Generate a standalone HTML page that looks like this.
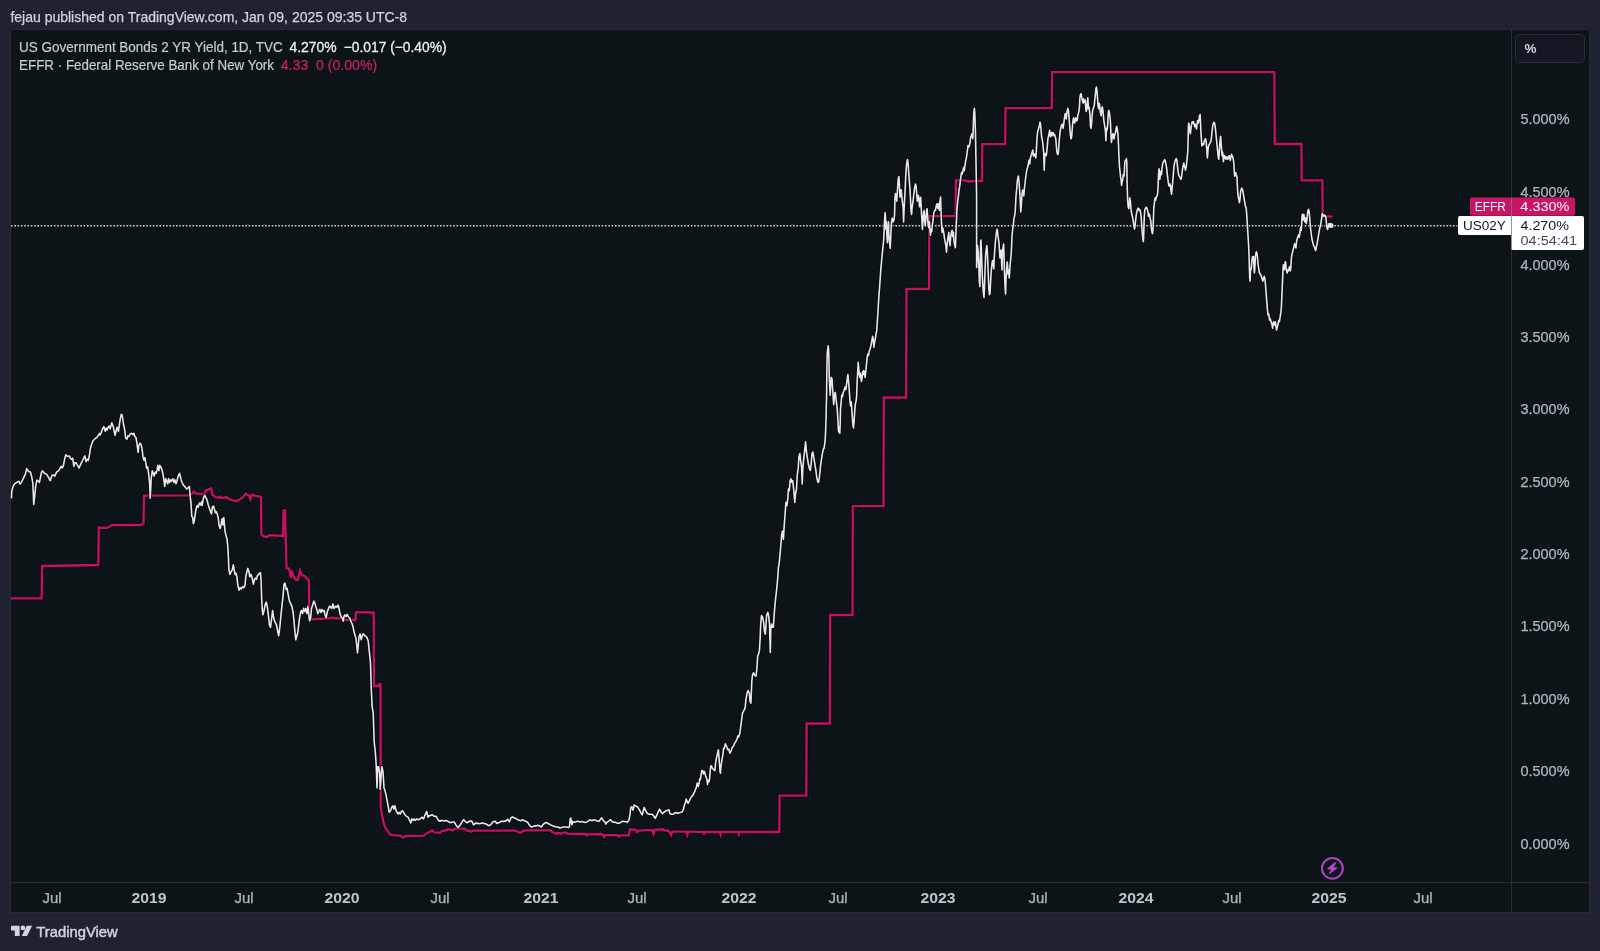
<!DOCTYPE html>
<html><head><meta charset="utf-8"><style>
*{margin:0;padding:0;box-sizing:border-box}
html,body{width:1600px;height:951px;overflow:hidden;background:#1f2330;font-family:"Liberation Sans",sans-serif}
.chart{position:absolute;left:10px;top:29px;width:1580px;height:884px;background:#0d1417;border:1px solid #272b36}
.vdiv{position:absolute;left:1511px;top:30px;width:1px;height:882px;background:#2a2f33}
.hdiv{position:absolute;left:11px;top:882px;width:1578px;height:1px;background:#2a2f33}
.pct{position:absolute;left:1515px;top:33.5px;width:70px;height:29px;border:1px solid #2a2e39;border-radius:5px;background:#131722}
svg{position:absolute;left:0;top:0;will-change:transform}
text{font-family:"Liberation Sans",sans-serif}
</style></head><body>
<div class="chart"></div>
<div class="vdiv"></div>
<div class="hdiv"></div>
<div class="pct"></div>
<svg width="1600" height="951" viewBox="0 0 1600 951">
<line x1="11" y1="225.75" x2="1457.5" y2="225.75" stroke="#cfd2d8" stroke-width="1.5" stroke-dasharray="1.6 1.7"/>
<polyline points="11.0,598.4 41.6,598.4 42.1,566.0 70.0,565.5 98.3,565.0 98.8,527.5 107.2,527.9 112.0,524.8 140.0,525.2 143.5,524.0 144.0,495.7 190.0,495.3 191.8,493.5 194.2,491.6 195.4,493.5 204.5,494.1 205.7,490.4 211.1,488.6 212.4,494.7 215.4,497.1 219.0,497.7 220.2,496.5 222.0,498.3 226.3,497.1 229.9,499.5 235.9,501.3 239.5,499.5 243.2,497.1 245.6,493.5 249.2,495.9 250.4,498.9 251.6,494.7 255.3,495.9 260.1,496.5 261.1,497.1 261.3,534.5 263.7,536.4 266.7,537.0 269.8,535.2 283.0,536.0 283.5,510.5 285.0,510.5 286.5,568.4 289.0,568.4 290.0,573.5 291.0,577.9 292.0,570.5 293.0,574.7 295.0,579.5 298.0,580.0 300.0,570.5 302.0,575.2 305.0,576.3 307.0,578.9 308.8,580.0 309.4,618.9 311.0,619.4 330.0,618.3 333.2,617.5 334.0,618.3 342.1,618.3 345.0,620.1 355.4,620.1 356.0,612.2 373.7,612.5 373.9,686.0 378.6,686.0 379.1,684.2 380.5,684.2 380.7,807.5 381.9,814.0 383.5,822.1 385.1,827.0 387.2,830.3 389.2,833.6 391.7,835.2 400.6,835.7 403.1,837.6 405.5,836.0 423.5,835.7 426.4,833.6 430.0,831.6 432.2,830.4 434.5,832.4 440.1,832.7 441.8,831.0 445.7,830.4 448.0,829.0 452.5,830.4 455.3,828.7 460.4,828.7 464.9,828.7 466.6,830.4 471.1,831.6 472.7,830.7 480.6,830.7 516.1,830.7 517.7,832.1 519.4,832.3 521.1,832.5 522.7,831.5 523.3,830.7 527.2,830.4 538.5,830.4 550.9,830.4 552.0,832.1 555.4,833.2 556.5,834.0 557.6,832.9 559.3,833.2 561.0,834.0 562.1,832.9 564.4,832.6 566.6,832.6 567.2,833.7 572.2,834.0 585.7,834.0 587.4,835.4 588.6,834.3 600.4,834.0 603.2,834.3 600.0,834.0 602.9,834.5 604.0,836.8 605.8,835.1 617.4,835.1 619.1,836.8 620.8,835.4 628.9,835.4 629.8,829.3 631.2,829.3 635.9,829.9 637.3,832.2 638.5,830.5 652.1,829.9 653.5,834.0 654.7,829.9 663.0,829.3 664.2,830.5 668.2,830.5 670.0,832.8 671.1,835.1 672.3,831.6 686.2,831.6 687.3,835.1 688.5,831.6 690.0,831.6 703.4,832.0 704.0,834.5 704.6,832.0 719.9,832.0 720.5,834.3 721.1,832.0 738.2,832.0 738.8,834.0 739.4,832.0 779.3,832.0 779.6,795.6 806.3,795.6 806.6,723.5 829.8,723.5 830.1,615.0 852.5,615.0 852.8,506.2 883.5,506.2 883.8,397.5 906.2,397.5 906.5,288.9 929.0,288.9 929.3,216.2 955.6,216.2 955.9,180.4 965.0,180.4 968.0,181.5 975.0,181.0 982.0,180.8 982.3,144.2 1005.2,144.2 1005.5,108.2 1051.8,108.2 1052.1,72.2 1274.4,72.2 1274.7,144.0 1301.4,144.0 1301.7,180.3 1322.4,180.3 1322.7,216.5 1332.5,216.5" fill="none" stroke="#020608" stroke-opacity="0.55" stroke-width="4.2" stroke-linejoin="miter"/>
<polyline points="11.0,598.4 41.6,598.4 42.1,566.0 70.0,565.5 98.3,565.0 98.8,527.5 107.2,527.9 112.0,524.8 140.0,525.2 143.5,524.0 144.0,495.7 190.0,495.3 191.8,493.5 194.2,491.6 195.4,493.5 204.5,494.1 205.7,490.4 211.1,488.6 212.4,494.7 215.4,497.1 219.0,497.7 220.2,496.5 222.0,498.3 226.3,497.1 229.9,499.5 235.9,501.3 239.5,499.5 243.2,497.1 245.6,493.5 249.2,495.9 250.4,498.9 251.6,494.7 255.3,495.9 260.1,496.5 261.1,497.1 261.3,534.5 263.7,536.4 266.7,537.0 269.8,535.2 283.0,536.0 283.5,510.5 285.0,510.5 286.5,568.4 289.0,568.4 290.0,573.5 291.0,577.9 292.0,570.5 293.0,574.7 295.0,579.5 298.0,580.0 300.0,570.5 302.0,575.2 305.0,576.3 307.0,578.9 308.8,580.0 309.4,618.9 311.0,619.4 330.0,618.3 333.2,617.5 334.0,618.3 342.1,618.3 345.0,620.1 355.4,620.1 356.0,612.2 373.7,612.5 373.9,686.0 378.6,686.0 379.1,684.2 380.5,684.2 380.7,807.5 381.9,814.0 383.5,822.1 385.1,827.0 387.2,830.3 389.2,833.6 391.7,835.2 400.6,835.7 403.1,837.6 405.5,836.0 423.5,835.7 426.4,833.6 430.0,831.6 432.2,830.4 434.5,832.4 440.1,832.7 441.8,831.0 445.7,830.4 448.0,829.0 452.5,830.4 455.3,828.7 460.4,828.7 464.9,828.7 466.6,830.4 471.1,831.6 472.7,830.7 480.6,830.7 516.1,830.7 517.7,832.1 519.4,832.3 521.1,832.5 522.7,831.5 523.3,830.7 527.2,830.4 538.5,830.4 550.9,830.4 552.0,832.1 555.4,833.2 556.5,834.0 557.6,832.9 559.3,833.2 561.0,834.0 562.1,832.9 564.4,832.6 566.6,832.6 567.2,833.7 572.2,834.0 585.7,834.0 587.4,835.4 588.6,834.3 600.4,834.0 603.2,834.3 600.0,834.0 602.9,834.5 604.0,836.8 605.8,835.1 617.4,835.1 619.1,836.8 620.8,835.4 628.9,835.4 629.8,829.3 631.2,829.3 635.9,829.9 637.3,832.2 638.5,830.5 652.1,829.9 653.5,834.0 654.7,829.9 663.0,829.3 664.2,830.5 668.2,830.5 670.0,832.8 671.1,835.1 672.3,831.6 686.2,831.6 687.3,835.1 688.5,831.6 690.0,831.6 703.4,832.0 704.0,834.5 704.6,832.0 719.9,832.0 720.5,834.3 721.1,832.0 738.2,832.0 738.8,834.0 739.4,832.0 779.3,832.0 779.6,795.6 806.3,795.6 806.6,723.5 829.8,723.5 830.1,615.0 852.5,615.0 852.8,506.2 883.5,506.2 883.8,397.5 906.2,397.5 906.5,288.9 929.0,288.9 929.3,216.2 955.6,216.2 955.9,180.4 965.0,180.4 968.0,181.5 975.0,181.0 982.0,180.8 982.3,144.2 1005.2,144.2 1005.5,108.2 1051.8,108.2 1052.1,72.2 1274.4,72.2 1274.7,144.0 1301.4,144.0 1301.7,180.3 1322.4,180.3 1322.7,216.5 1332.5,216.5" fill="none" stroke="#c51162" stroke-width="2.3" stroke-linejoin="miter"/>
<polyline points="11.5,498.6 11.7,491.7 13.2,485.9 14.9,483.6 16.7,482.5 19.0,481.3 20.1,484.2 21.9,481.3 23.6,477.8 25.3,474.4 26.7,468.6 28.6,471.5 30.5,472.1 31.7,476.7 32.9,483.6 33.7,504.4 34.6,497.5 35.7,485.9 36.9,480.1 38.6,481.3 39.4,482.5 41.5,472.1 42.7,470.9 44.4,473.2 46.7,474.4 48.5,477.3 50.2,480.7 51.9,475.5 53.7,474.9 54.8,476.1 56.6,472.1 58.9,470.3 61.2,466.3 62.3,468.0 63.5,465.1 64.6,459.3 65.8,454.7 67.5,456.4 69.3,455.9 70.4,458.2 71.6,459.3 72.7,458.2 73.9,466.3 74.8,462.8 76.2,462.8 77.4,465.1 79.1,468.0 80.3,465.1 81.4,462.8 82.6,460.5 83.7,458.2 84.9,455.9 86.0,461.6 87.2,459.3 88.3,460.5 89.5,454.7 90.3,448.9 91.2,445.5 93.0,440.8 95.3,438.5 97.0,437.4 98.8,434.5 99.9,433.3 100.0,435.2 101.3,432.6 102.6,428.7 103.9,426.7 105.3,431.3 106.3,428.0 107.2,430.0 108.1,427.3 109.2,426.0 110.2,428.7 111.8,422.7 113.1,426.0 114.2,431.3 115.1,435.2 116.0,431.3 117.1,427.3 118.4,431.3 119.4,424.7 120.4,418.1 121.3,414.2 122.3,415.5 123.0,420.8 123.9,426.0 125.0,431.3 125.6,437.9 126.9,439.2 127.9,435.9 128.9,436.5 130.2,433.9 131.5,433.3 132.9,434.6 133.9,433.3 134.8,436.5 136.1,437.9 137.1,444.4 138.1,452.3 138.8,445.7 140.1,443.1 141.0,444.4 142.0,448.4 143.1,457.6 144.0,460.2 144.9,457.6 146.0,464.1 146.6,468.1 147.6,466.8 148.6,473.3 149.7,483.8 150.2,498.3 151.2,478.6 152.3,470.7 153.2,473.3 154.1,476.0 155.2,472.0 156.2,473.3 157.2,469.4 157.8,465.4 158.9,470.7 159.8,465.4 160.7,466.8 161.8,469.4 162.8,473.3 163.7,478.6 164.7,486.5 165.7,478.6 166.8,481.2 167.7,483.8 168.6,478.6 169.6,482.5 170.7,479.9 171.6,481.2 172.9,478.6 173.9,482.5 174.9,479.9 176.0,483.8 176.9,481.2 178.2,476.0 179.5,473.3 180.2,476.0 181.2,479.9 182.1,482.5 183.4,485.2 184.8,486.5 186.7,489.1 188.0,487.8 189.4,486.5 190.0,494.7 191.0,503.1 191.8,516.4 192.7,517.6 193.4,523.7 194.2,521.3 195.4,512.8 196.3,508.0 197.3,505.5 198.2,507.4 199.4,503.1 200.6,504.9 201.5,501.9 202.1,505.5 203.1,499.5 203.9,497.1 204.7,495.3 205.7,497.1 206.9,499.5 208.1,504.3 209.3,508.0 210.5,511.6 211.5,514.0 212.4,506.8 213.6,506.1 214.4,509.2 215.4,512.8 216.3,511.6 217.6,515.2 218.4,518.8 219.0,524.9 220.2,528.5 221.2,523.7 222.0,518.8 222.9,524.9 223.8,517.6 225.0,530.9 226.0,535.8 226.9,538.2 227.7,545.4 228.4,557.5 228.9,569.6 229.9,574.4 231.1,572.0 232.3,569.6 233.3,564.8 234.1,569.6 235.0,574.4 235.9,573.2 236.9,576.8 237.7,584.1 238.9,590.1 240.2,587.7 241.4,588.9 242.6,586.5 243.8,587.7 245.0,585.3 245.8,576.8 246.8,572.0 247.8,568.4 249.0,572.0 249.8,576.8 251.0,574.4 252.2,578.1 253.4,584.1 254.3,580.5 255.3,578.1 256.5,579.3 257.4,575.6 258.6,574.4 259.5,573.2 260.5,572.6 261.1,581.0 261.6,596.8 262.3,610.5 262.9,614.7 264.0,610.5 265.3,604.2 266.3,602.1 267.4,607.3 268.4,615.7 269.5,625.2 270.5,627.3 271.6,618.9 272.6,610.5 273.5,616.8 274.5,621.0 275.6,623.1 276.6,625.2 277.7,631.5 278.7,635.7 279.8,627.3 280.8,616.8 282.1,604.2 282.9,597.9 284.0,584.2 285.0,583.1 286.1,589.4 287.1,588.4 288.2,594.7 289.2,600.0 290.3,603.1 291.1,604.2 292.1,607.3 293.1,612.6 293.9,619.9 294.9,631.5 295.8,639.9 296.8,635.7 297.6,633.6 298.7,625.2 299.7,616.8 300.8,611.5 301.5,610.5 302.6,613.6 303.6,608.4 304.7,611.5 305.7,608.4 306.8,613.6 307.8,606.3 308.9,615.7 309.6,621.0 310.7,617.8 311.5,608.4 312.6,605.2 313.8,601.0 314.9,603.1 315.7,606.3 316.8,609.4 317.8,613.6 318.9,611.5 319.9,609.4 321.0,612.6 322.0,609.4 323.1,611.5 324.1,610.5 325.0,614.7 326.2,617.8 327.3,611.5 328.3,609.4 329.4,606.3 330.0,606.2 331.7,608.5 332.9,603.9 334.0,608.5 335.8,606.2 336.9,607.3 338.1,605.0 339.0,608.5 340.2,614.3 341.0,616.6 342.1,617.7 343.3,621.2 343.9,616.6 344.8,614.9 346.0,616.6 347.1,614.3 347.9,616.0 349.1,617.7 349.9,618.3 350.8,621.2 352.0,623.5 353.1,627.0 354.0,631.6 354.9,635.1 356.0,638.6 356.8,645.5 357.5,653.0 358.3,645.5 359.1,636.2 360.1,633.9 361.2,639.7 362.4,635.1 363.5,633.9 364.7,635.7 365.8,636.2 367.0,637.4 368.2,640.9 369.3,651.3 370.5,662.8 371.3,690.0 372.1,706.3 373.2,712.8 374.2,742.2 375.3,752.0 376.2,765.0 377.0,787.9 377.8,766.7 378.6,766.7 379.7,773.2 380.2,789.5 381.1,776.5 381.9,766.7 383.0,771.6 384.0,787.9 385.1,791.1 385.9,794.4 387.2,800.9 388.4,807.5 389.2,812.3 390.5,810.7 391.7,807.5 392.8,805.8 393.8,809.1 394.9,805.8 396.1,810.7 397.0,812.3 398.2,814.0 399.3,812.3 400.3,814.0 401.4,811.5 402.6,810.7 403.6,812.3 405.5,815.6 408.0,817.2 409.6,820.5 410.7,823.0 411.7,818.9 412.9,820.5 414.0,818.9 415.3,820.5 416.9,818.9 418.6,819.7 420.2,818.9 421.8,817.2 423.5,818.9 425.1,814.8 426.7,811.5 428.0,817.2 429.2,815.6 430.0,815.8 432.0,814.7 433.9,816.1 436.2,816.4 438.4,820.3 440.1,821.2 441.8,820.3 444.1,820.9 446.3,820.6 448.6,821.7 450.8,822.8 452.5,822.0 454.2,822.0 456.2,825.4 458.1,827.6 460.4,824.8 462.6,820.9 463.7,819.7 464.9,821.2 467.1,822.8 469.4,821.4 471.6,820.9 473.6,824.8 475.6,823.1 477.8,823.4 479.8,823.7 482.0,823.1 484.0,823.4 486.2,824.0 488.5,825.7 490.7,824.8 493.0,821.7 495.2,821.2 496.9,823.4 499.2,822.6 501.4,821.2 503.7,821.4 505.9,820.9 507.6,819.2 509.3,821.7 511.0,817.8 512.7,816.9 514.4,818.1 516.0,818.6 517.7,819.7 519.4,820.2 521.1,820.8 522.7,819.7 524.4,820.8 526.1,821.4 527.8,822.5 529.5,825.3 531.2,827.0 532.9,826.4 534.6,825.9 536.2,825.9 537.9,825.3 539.6,825.9 541.3,827.0 543.0,824.7 544.7,823.1 546.4,822.5 548.1,823.6 549.7,824.2 551.4,825.3 553.1,825.9 554.8,826.4 556.5,827.0 558.2,827.0 559.9,828.1 561.6,827.6 563.2,827.0 564.9,827.0 566.6,827.0 568.3,827.6 569.4,827.0 570.3,818.6 570.8,818.0 571.4,822.5 572.0,824.7 572.5,821.4 573.4,822.5 575.1,821.9 576.7,821.4 578.4,821.4 580.1,821.9 581.8,821.4 583.5,821.9 585.2,822.5 586.9,821.9 588.6,820.8 590.2,819.7 591.9,820.8 593.6,819.7 595.3,820.2 597.0,820.8 598.7,821.4 600.0,820.1 601.7,817.8 603.5,820.7 605.2,822.4 605.8,824.1 606.9,822.4 608.7,821.2 610.4,819.5 612.1,821.8 613.9,822.1 615.6,822.4 617.4,823.3 619.1,823.3 620.8,822.4 622.6,821.2 624.3,821.5 626.0,821.8 627.2,822.4 628.9,820.1 630.1,814.3 630.7,807.4 631.8,806.8 633.0,810.2 634.1,805.0 635.9,806.2 637.6,806.8 639.3,809.7 641.1,813.1 642.2,814.9 643.4,810.2 644.2,807.4 645.1,809.7 646.8,812.6 648.6,814.3 650.3,814.3 652.1,814.3 653.8,816.0 655.2,818.3 656.7,815.4 658.4,811.4 659.6,809.1 660.7,811.4 662.5,813.7 664.2,812.0 665.9,810.8 667.7,810.2 668.8,809.7 670.0,813.7 671.7,814.3 673.5,814.3 675.2,812.6 676.9,813.1 678.7,813.1 680.4,812.6 682.1,812.0 683.3,809.7 684.4,805.0 685.6,802.1 686.1,799.0 686.8,800.4 687.5,802.5 688.2,803.2 688.9,801.8 689.9,799.7 690.9,797.6 692.0,796.2 692.7,795.6 693.4,794.2 694.1,792.8 694.8,791.4 695.5,789.3 696.2,787.9 696.8,785.1 697.2,783.1 697.9,784.4 698.2,786.5 698.6,785.1 699.3,781.7 699.8,778.9 700.3,779.6 700.7,777.5 701.4,772.6 701.7,770.6 702.4,770.6 703.1,771.9 703.4,774.0 704.1,771.2 704.8,772.6 705.5,775.4 706.2,777.5 706.9,779.6 707.5,784.4 708.0,781.7 708.4,780.3 709.0,781.7 709.6,778.9 710.0,773.3 710.4,769.2 710.7,766.4 711.4,765.7 712.1,767.8 713.2,769.2 714.2,769.9 714.9,770.6 715.6,762.9 716.3,758.8 717.0,756.0 717.7,752.5 718.4,749.7 718.7,753.9 719.1,758.8 719.6,765.7 720.0,771.2 720.5,773.3 720.8,767.8 721.5,762.9 722.2,758.1 722.9,754.6 723.6,748.3 724.2,748.6 725.3,743.9 725.9,745.1 727.0,747.4 727.8,749.7 728.8,749.1 729.9,753.2 731.1,750.9 732.2,747.4 733.4,746.2 734.6,743.4 735.7,741.6 736.9,739.3 738.0,735.8 738.6,737.0 739.8,733.5 742.5,713.2 745.1,708.1 745.9,699.7 747.1,693.0 748.1,690.5 749.3,693.0 750.1,701.4 750.9,703.1 751.8,681.2 752.6,674.5 753.5,672.8 754.8,675.3 756.0,676.2 756.8,669.4 757.7,656.0 758.5,654.3 759.4,650.9 760.2,637.4 760.7,624.0 761.5,615.6 762.7,617.2 763.6,622.3 764.4,630.7 765.3,634.1 766.6,615.6 767.8,612.2 768.6,615.6 769.5,624.0 770.3,652.6 770.8,629.0 771.6,624.0 772.3,627.3 773.3,627.3 774.5,610.5 775.4,600.4 776.2,593.7 777.4,581.9 778.4,568.0 779.2,563.0 780.0,554.6 780.9,544.5 781.7,534.4 782.6,531.0 783.4,539.4 784.3,524.3 785.1,514.2 785.9,502.4 786.8,505.8 787.6,500.7 788.5,489.0 789.3,490.6 790.1,480.6 791.0,478.9 791.8,482.2 792.7,480.6 793.8,490.6 794.8,502.4 795.5,494.0 796.5,489.0 797.2,475.5 798.2,468.8 798.9,457.0 799.9,453.6 800.6,460.4 801.6,467.1 802.2,483.9 802.9,467.1 803.9,457.0 804.9,448.6 805.6,441.9 806.5,452.0 807.5,458.7 808.3,463.7 809.5,468.8 810.3,470.5 811.2,463.7 812.0,453.6 812.8,452.0 814.0,458.7 815.0,465.4 815.7,468.8 816.7,477.2 817.9,482.2 818.7,482.2 819.6,475.5 820.4,467.1 821.3,460.4 822.4,453.6 823.4,448.6 824.1,448.4 825.2,440.2 825.7,429.2 826.1,415.6 826.6,395.1 826.8,374.6 827.1,355.5 827.6,350.0 828.2,345.9 828.7,351.4 829.0,363.7 829.3,378.7 829.8,388.3 830.2,395.1 830.7,385.5 831.2,377.4 832.0,378.7 832.6,388.3 833.1,396.5 833.7,404.7 834.2,399.2 834.7,393.7 835.3,392.4 835.8,396.5 836.4,401.9 837.1,407.4 837.8,418.3 838.3,429.2 838.8,432.0 839.4,426.5 839.8,433.3 840.2,423.8 840.5,408.8 841.2,401.9 841.8,395.1 842.5,396.5 843.2,392.4 843.9,391.0 844.6,388.3 845.3,386.9 845.9,389.6 846.6,384.2 847.3,378.7 847.9,374.6 848.4,380.1 848.9,385.5 849.5,393.7 850.0,401.9 850.6,406.0 851.1,401.9 851.7,407.4 852.2,415.6 852.8,423.8 853.5,427.9 854.1,421.1 854.8,410.1 855.5,403.3 856.2,400.6 856.6,396.5 857.1,382.8 857.7,371.9 858.2,362.3 858.8,369.2 859.3,374.6 859.9,377.4 860.4,373.3 861.0,378.7 861.5,381.5 862.1,377.4 862.6,371.9 863.2,374.6 863.7,370.5 864.4,371.9 865.1,377.4 865.7,371.9 866.4,365.1 867.1,358.2 867.8,354.1 868.5,355.5 869.2,351.4 869.8,350.0 870.5,347.3 871.2,344.6 871.9,340.5 872.6,336.4 873.3,339.1 873.9,347.3 874.6,341.8 875.3,339.1 876.0,333.7 876.7,330.9 877.9,312.8 878.8,297.6 879.8,284.4 880.7,271.1 881.7,259.8 882.6,250.3 883.6,240.9 884.0,233.3 884.5,221.9 885.1,212.5 885.5,218.1 886.0,229.5 886.4,221.9 887.0,237.1 887.4,242.8 887.9,231.4 888.5,221.9 888.9,235.2 889.6,242.8 890.2,248.4 890.8,235.2 891.5,221.9 892.3,218.1 893.0,221.9 894.0,220.0 894.6,214.4 894.9,199.2 895.5,193.5 896.1,197.3 896.8,201.1 897.6,187.9 898.3,178.4 898.9,176.5 899.5,187.9 900.0,197.3 900.6,191.6 901.2,189.8 901.7,195.4 902.5,203.0 903.1,206.8 903.6,221.9 904.2,206.8 904.8,195.4 905.3,186.0 905.9,172.7 906.5,165.1 907.0,161.4 907.6,159.5 908.2,165.1 908.7,172.7 909.3,180.3 909.9,187.9 910.5,199.2 911.0,210.6 911.6,214.4 912.0,208.7 912.5,204.9 913.3,199.2 913.9,193.5 914.6,187.9 915.4,184.1 916.1,186.0 916.7,193.5 917.3,201.1 917.8,197.3 918.4,195.4 919.0,199.2 919.5,206.8 920.1,201.1 920.7,197.3 921.2,206.8 921.8,218.1 922.4,229.5 922.9,221.9 923.5,214.4 924.1,210.6 924.6,220.0 925.2,225.7 925.8,220.0 926.4,212.5 927.1,208.7 927.7,218.1 928.2,225.7 928.8,227.6 929.4,221.9 929.9,229.5 930.5,235.2 931.1,229.5 931.7,231.4 932.2,225.7 932.8,221.9 933.4,216.3 933.9,212.5 934.7,210.6 935.5,210.3 936.2,205.9 937.1,203.7 937.7,208.1 938.4,203.7 939.3,210.3 939.9,201.5 940.6,197.1 941.0,210.3 941.5,223.5 942.1,232.4 942.8,228.0 943.7,232.4 944.3,236.8 945.0,241.2 945.9,245.6 946.5,252.2 947.2,243.4 948.1,236.8 948.8,232.4 949.4,241.2 950.1,245.6 950.7,236.8 951.4,232.4 952.1,230.2 952.7,236.8 953.4,232.4 954.0,241.2 954.7,245.6 955.4,247.8 955.6,243.1 956.1,227.9 956.6,217.8 956.9,209.4 957.4,204.4 957.9,199.3 958.6,194.3 959.1,189.2 959.6,187.5 960.3,180.8 961.0,175.8 961.6,172.4 962.3,174.1 963.0,170.7 963.7,167.3 964.3,170.7 965.0,165.7 965.7,160.6 966.2,158.9 966.7,155.6 967.4,150.5 968.0,145.5 968.7,147.1 969.4,145.5 970.1,142.1 970.7,137.0 971.4,135.4 972.1,133.7 972.8,138.7 973.1,132.0 973.4,121.9 973.8,113.5 974.1,110.1 974.4,108.4 974.8,113.5 975.1,121.9 975.5,133.7 975.8,150.5 976.6,196.4 976.6,267.4 977.0,259.2 977.5,245.6 978.2,252.4 978.9,268.8 979.3,281.1 979.9,286.6 980.3,262.0 980.7,241.5 981.0,240.1 981.4,251.0 981.8,262.0 982.3,275.6 982.9,286.6 983.4,293.4 984.0,297.5 984.5,286.6 985.1,268.8 985.7,253.8 986.4,248.3 986.8,245.6 987.2,249.7 987.8,262.0 988.3,275.6 988.9,289.3 989.4,294.8 990.0,293.4 990.5,283.8 991.1,272.9 991.6,267.4 992.2,262.0 992.7,260.6 993.3,264.7 993.8,268.8 994.3,256.5 994.9,248.3 995.4,241.5 996.0,236.0 996.5,231.9 997.1,229.2 997.6,231.9 998.0,236.0 998.4,238.7 999.0,242.8 999.5,251.0 1000.0,258.0 1000.6,254.0 1001.2,250.0 1001.6,262.0 1002.0,270.0 1002.4,254.0 1003.0,248.0 1003.6,244.0 1004.0,254.0 1004.4,270.0 1005.0,286.0 1005.6,294.0 1006.0,280.0 1006.6,270.0 1007.2,262.0 1007.6,266.0 1008.0,274.0 1008.6,270.0 1009.2,278.0 1009.6,274.0 1010.0,266.0 1010.6,260.0 1011.2,254.0 1011.6,246.0 1012.0,236.0 1012.6,230.0 1013.2,226.0 1013.6,222.0 1014.0,218.0 1014.6,216.0 1015.2,212.0 1015.6,204.0 1016.0,196.0 1016.6,190.0 1017.2,182.0 1017.8,178.0 1018.4,176.0 1019.0,182.0 1019.6,190.0 1020.2,200.0 1020.8,212.0 1021.4,204.0 1022.0,194.0 1022.6,190.0 1023.2,192.0 1023.8,196.0 1024.4,188.0 1025.0,184.0 1025.6,178.0 1026.2,174.0 1026.8,170.0 1027.4,168.0 1028.0,166.0 1028.6,162.0 1029.2,160.0 1029.8,164.0 1030.4,158.0 1031.0,156.0 1031.6,154.0 1032.2,152.0 1032.8,150.0 1033.4,156.0 1034.0,154.0 1034.6,156.0 1035.2,154.0 1035.8,158.0 1036.4,150.0 1037.0,138.0 1037.6,132.0 1038.2,130.0 1038.8,128.0 1039.4,126.0 1040.0,122.0 1040.5,124.1 1041.1,130.4 1041.6,136.7 1042.1,138.8 1042.6,142.0 1043.2,147.2 1043.7,153.5 1044.0,164.0 1044.2,170.3 1044.5,161.9 1044.8,155.6 1045.3,153.5 1045.8,153.5 1046.3,155.6 1046.8,151.4 1047.4,145.1 1047.9,138.8 1048.4,136.7 1048.9,134.6 1049.2,132.5 1049.7,130.4 1050.1,134.6 1050.5,136.7 1051.0,134.6 1051.6,132.5 1052.1,135.7 1052.6,133.6 1053.1,132.5 1053.7,134.6 1054.2,135.7 1054.7,134.6 1055.2,136.7 1055.8,138.8 1056.3,145.1 1056.8,151.4 1057.3,153.5 1057.9,154.6 1058.4,152.5 1058.9,145.1 1059.4,138.8 1060.0,132.5 1060.5,129.4 1061.0,127.3 1061.5,125.2 1062.1,124.1 1062.6,126.2 1063.1,128.3 1063.6,125.2 1064.2,119.9 1064.7,116.8 1065.2,113.6 1065.7,114.7 1066.3,118.9 1066.8,113.6 1067.3,110.5 1067.8,108.4 1068.4,110.5 1068.9,115.7 1069.4,122.0 1069.9,129.4 1070.5,135.7 1071.0,138.8 1071.5,137.8 1072.0,132.5 1072.6,124.1 1073.1,119.9 1073.6,117.8 1074.1,122.0 1074.7,123.1 1075.2,119.9 1075.7,117.8 1076.2,118.9 1076.8,121.0 1077.3,119.9 1077.8,115.7 1078.3,113.6 1078.9,111.5 1079.4,107.3 1079.9,97.9 1080.4,94.7 1081.0,93.7 1081.5,95.8 1082.0,98.9 1082.5,101.0 1083.1,103.1 1083.6,98.9 1084.1,101.0 1084.6,102.1 1085.2,100.0 1085.7,107.3 1086.2,111.5 1086.7,109.4 1087.3,103.1 1087.8,97.9 1088.4,108.6 1088.9,106.8 1089.5,110.4 1090.0,115.7 1090.5,126.4 1091.1,128.2 1091.6,122.9 1092.1,115.7 1092.7,110.4 1093.2,108.6 1093.8,106.8 1094.3,105.0 1094.8,99.6 1095.4,94.3 1095.9,88.9 1096.4,87.1 1097.0,90.7 1097.5,97.9 1098.0,105.0 1098.6,108.6 1099.1,103.2 1099.6,105.0 1100.2,110.4 1100.7,113.9 1101.2,115.7 1101.8,108.6 1102.3,106.8 1102.9,110.4 1103.4,115.7 1103.9,121.1 1104.5,124.6 1105.0,128.2 1105.5,131.8 1105.9,140.7 1106.2,133.6 1106.6,128.2 1107.1,130.0 1107.7,124.6 1108.2,113.9 1108.8,110.4 1109.3,112.1 1109.8,115.7 1110.4,121.1 1110.9,133.6 1111.4,142.5 1112.0,138.9 1112.5,135.4 1113.0,133.6 1113.6,137.1 1114.1,138.9 1114.6,135.4 1115.2,133.6 1115.7,131.8 1116.2,128.2 1116.8,126.4 1117.3,130.0 1117.9,133.6 1118.4,142.5 1118.9,155.0 1119.5,167.5 1120.0,171.1 1120.5,176.4 1121.1,180.0 1121.6,185.4 1122.1,181.8 1122.7,180.0 1123.2,174.6 1123.8,176.4 1124.3,172.9 1124.8,162.1 1125.4,160.4 1125.9,160.4 1126.4,158.6 1126.8,162.1 1127.1,183.6 1127.7,201.4 1128.2,206.8 1128.8,208.6 1129.3,203.2 1129.8,197.9 1130.4,201.4 1130.9,208.6 1131.4,212.1 1132.3,216.3 1132.9,218.6 1133.5,223.2 1134.0,226.7 1134.6,229.0 1135.2,224.4 1135.8,218.6 1136.4,214.0 1136.9,211.7 1137.5,209.4 1138.1,208.2 1138.7,209.4 1139.2,210.5 1139.8,209.4 1140.4,211.7 1141.0,215.1 1141.6,223.2 1142.1,231.3 1142.7,237.1 1143.3,241.7 1143.6,238.3 1143.9,227.9 1144.2,218.6 1144.6,211.7 1145.0,209.4 1145.6,208.2 1146.2,207.1 1146.8,208.2 1147.3,209.4 1147.9,211.7 1148.5,216.3 1149.1,214.0 1149.7,215.1 1150.2,218.6 1150.8,220.9 1151.4,227.9 1152.0,232.5 1152.5,233.6 1153.1,227.9 1153.5,216.3 1153.8,208.2 1154.3,203.6 1154.7,200.1 1155.2,197.8 1155.7,200.1 1156.1,197.8 1156.6,196.6 1157.2,195.5 1157.7,193.2 1158.1,186.2 1158.4,177.0 1158.8,170.1 1159.1,168.9 1159.5,174.7 1159.8,179.3 1160.2,175.8 1160.5,173.5 1160.9,171.2 1161.2,174.7 1161.6,173.5 1161.9,168.9 1162.4,165.4 1162.9,163.1 1163.5,162.0 1164.1,160.8 1164.7,159.7 1165.3,160.8 1165.8,163.1 1166.4,166.6 1167.0,171.2 1167.6,177.0 1168.2,181.6 1168.7,185.1 1169.3,186.2 1169.9,183.9 1170.5,186.2 1171.0,190.9 1171.6,194.3 1172.1,188.6 1172.5,183.9 1173.0,178.2 1173.5,172.4 1173.9,167.7 1174.5,163.1 1175.1,160.8 1175.7,159.7 1176.2,158.5 1176.8,159.7 1177.4,165.4 1178.0,171.2 1178.6,174.7 1179.1,175.8 1179.7,177.0 1180.3,178.2 1180.9,179.3 1181.4,178.2 1182.0,173.5 1182.6,168.9 1183.2,165.4 1183.8,163.1 1184.3,165.4 1184.9,167.7 1185.5,170.1 1186.1,167.7 1186.6,163.1 1187.2,157.3 1187.8,151.6 1188.4,126.6 1188.7,123.0 1189.2,125.4 1189.8,131.4 1190.4,133.8 1191.0,127.8 1191.6,124.2 1192.2,121.7 1192.9,123.0 1193.5,121.7 1194.1,124.2 1194.7,126.6 1195.3,124.2 1195.9,126.6 1196.5,129.0 1197.1,124.2 1197.7,120.5 1198.3,123.0 1198.9,120.5 1199.5,115.7 1200.1,114.5 1200.5,121.7 1200.8,130.2 1201.2,136.2 1201.6,142.3 1201.9,145.9 1202.5,144.7 1203.1,143.5 1203.7,144.7 1204.3,141.1 1204.9,139.9 1205.5,138.7 1206.1,141.1 1206.7,148.3 1207.4,158.0 1207.7,154.4 1208.1,148.3 1208.6,145.9 1209.2,144.7 1209.8,143.5 1210.4,142.3 1211.0,141.1 1211.6,136.2 1212.2,130.2 1212.8,125.4 1213.4,123.0 1214.0,122.4 1214.6,123.0 1215.2,126.6 1215.8,132.6 1216.4,138.7 1217.0,144.7 1217.6,150.7 1218.2,156.8 1218.8,159.2 1219.4,150.7 1220.0,141.1 1220.6,136.2 1221.0,141.1 1221.5,148.3 1222.0,155.6 1222.5,152.0 1222.9,154.4 1223.4,161.6 1223.9,158.0 1224.4,155.6 1224.9,158.0 1225.5,156.8 1226.1,159.2 1226.7,156.8 1227.3,158.0 1227.9,159.2 1228.5,156.8 1229.1,155.6 1229.7,158.0 1230.3,160.4 1230.9,156.8 1231.5,154.4 1232.1,155.6 1232.7,156.8 1233.3,159.2 1233.9,164.0 1234.3,172.5 1234.7,176.1 1235.1,173.7 1235.7,172.5 1236.3,174.9 1237.0,177.3 1237.3,184.6 1237.7,191.8 1238.2,196.7 1238.8,199.1 1239.4,202.7 1240.0,199.1 1240.6,191.8 1241.2,189.4 1241.8,188.2 1242.4,189.4 1243.0,191.8 1243.6,195.4 1244.2,199.1 1244.8,202.7 1245.4,206.3 1246.1,207.7 1246.6,212.6 1247.1,220.7 1247.6,228.9 1248.1,237.0 1248.6,245.2 1249.1,256.6 1249.4,268.0 1249.7,277.8 1250.1,281.1 1250.4,272.9 1250.7,268.0 1251.0,269.6 1251.5,266.4 1252.0,259.9 1252.5,256.6 1253.0,258.2 1253.5,256.6 1254.0,268.0 1254.3,272.9 1254.6,271.3 1255.0,264.8 1255.4,256.6 1255.9,253.3 1256.4,251.7 1256.9,253.3 1257.4,256.6 1257.9,263.1 1258.4,266.4 1258.9,269.6 1259.4,272.9 1259.8,272.9 1260.3,274.5 1260.8,274.5 1261.3,276.2 1261.8,277.8 1262.3,279.4 1262.8,281.1 1263.3,279.4 1263.8,277.8 1264.2,276.2 1264.7,277.8 1265.2,281.1 1265.7,287.6 1266.2,294.1 1266.7,300.6 1267.2,307.1 1267.7,312.0 1268.2,315.3 1268.6,313.7 1269.1,316.9 1269.6,320.2 1270.1,318.5 1270.6,320.2 1271.1,321.8 1271.6,323.4 1272.1,325.1 1272.6,328.3 1273.0,325.1 1273.5,321.8 1274.0,323.4 1274.5,325.1 1275.0,323.4 1275.5,321.8 1276.0,326.7 1276.5,330.0 1277.0,328.3 1277.4,326.7 1277.9,325.1 1278.4,321.8 1278.9,320.2 1279.4,321.8 1279.9,318.5 1280.4,315.3 1280.9,312.0 1281.4,307.1 1281.8,297.4 1282.3,285.9 1282.8,274.5 1283.3,264.8 1283.8,266.4 1284.3,269.6 1284.8,264.8 1285.3,261.5 1285.8,263.1 1286.2,269.6 1286.7,271.3 1287.2,272.9 1287.7,271.3 1288.3,269.1 1288.7,270.8 1289.2,268.2 1289.6,266.5 1290.0,269.1 1290.4,270.8 1290.8,268.2 1291.3,259.0 1291.7,255.6 1292.1,253.9 1292.5,252.2 1292.9,250.6 1293.4,248.9 1293.8,247.2 1294.2,245.5 1294.6,243.8 1295.0,244.7 1295.5,247.2 1295.9,248.0 1296.3,243.8 1296.7,240.5 1297.2,238.8 1297.6,237.9 1298.0,236.2 1298.4,235.4 1298.8,234.6 1299.3,237.1 1299.7,234.6 1300.1,230.4 1300.5,228.7 1300.9,227.0 1301.2,230.4 1301.5,226.1 1301.8,221.1 1302.0,216.0 1302.4,214.4 1302.7,220.3 1303.0,216.9 1303.5,215.2 1303.9,214.4 1304.3,218.6 1304.7,221.9 1305.1,220.3 1305.6,217.7 1306.0,220.3 1306.4,223.6 1306.8,220.3 1307.3,216.0 1307.7,211.8 1308.1,210.2 1308.5,209.3 1308.9,210.2 1309.4,214.4 1309.8,218.6 1310.2,224.5 1310.6,228.7 1311.0,232.0 1311.5,235.4 1311.9,238.8 1312.3,240.5 1312.7,242.1 1313.1,243.8 1313.6,245.5 1314.0,246.3 1314.4,247.2 1314.8,248.0 1315.2,249.7 1315.7,250.6 1316.1,248.9 1316.5,246.3 1316.9,244.7 1317.4,242.1 1317.8,239.6 1318.2,237.1 1318.6,234.6 1319.0,232.0 1319.5,229.5 1319.9,227.8 1320.3,226.1 1320.7,224.5 1321.1,221.9 1321.6,218.6 1322.0,215.2 1322.2,213.5 1322.6,214.4 1323.1,216.0 1323.7,215.2 1324.1,216.0 1324.5,216.0 1324.9,215.2 1325.4,216.5 1325.8,216.9 1326.2,220.3 1326.6,224.5 1327.0,227.8 1327.5,229.5 1327.9,228.7 1328.3,226.1 1328.7,224.5 1329.1,223.6 1329.6,224.5 1330.0,223.6 1330.4,224.5 1330.8,225.3 1331.2,225.3 1331.7,225.7 1332.1,226.1 1332.5,226.0" fill="none" stroke="#020608" stroke-opacity="0.55" stroke-width="3.4" stroke-linejoin="round"/>
<polyline points="11.5,498.6 11.7,491.7 13.2,485.9 14.9,483.6 16.7,482.5 19.0,481.3 20.1,484.2 21.9,481.3 23.6,477.8 25.3,474.4 26.7,468.6 28.6,471.5 30.5,472.1 31.7,476.7 32.9,483.6 33.7,504.4 34.6,497.5 35.7,485.9 36.9,480.1 38.6,481.3 39.4,482.5 41.5,472.1 42.7,470.9 44.4,473.2 46.7,474.4 48.5,477.3 50.2,480.7 51.9,475.5 53.7,474.9 54.8,476.1 56.6,472.1 58.9,470.3 61.2,466.3 62.3,468.0 63.5,465.1 64.6,459.3 65.8,454.7 67.5,456.4 69.3,455.9 70.4,458.2 71.6,459.3 72.7,458.2 73.9,466.3 74.8,462.8 76.2,462.8 77.4,465.1 79.1,468.0 80.3,465.1 81.4,462.8 82.6,460.5 83.7,458.2 84.9,455.9 86.0,461.6 87.2,459.3 88.3,460.5 89.5,454.7 90.3,448.9 91.2,445.5 93.0,440.8 95.3,438.5 97.0,437.4 98.8,434.5 99.9,433.3 100.0,435.2 101.3,432.6 102.6,428.7 103.9,426.7 105.3,431.3 106.3,428.0 107.2,430.0 108.1,427.3 109.2,426.0 110.2,428.7 111.8,422.7 113.1,426.0 114.2,431.3 115.1,435.2 116.0,431.3 117.1,427.3 118.4,431.3 119.4,424.7 120.4,418.1 121.3,414.2 122.3,415.5 123.0,420.8 123.9,426.0 125.0,431.3 125.6,437.9 126.9,439.2 127.9,435.9 128.9,436.5 130.2,433.9 131.5,433.3 132.9,434.6 133.9,433.3 134.8,436.5 136.1,437.9 137.1,444.4 138.1,452.3 138.8,445.7 140.1,443.1 141.0,444.4 142.0,448.4 143.1,457.6 144.0,460.2 144.9,457.6 146.0,464.1 146.6,468.1 147.6,466.8 148.6,473.3 149.7,483.8 150.2,498.3 151.2,478.6 152.3,470.7 153.2,473.3 154.1,476.0 155.2,472.0 156.2,473.3 157.2,469.4 157.8,465.4 158.9,470.7 159.8,465.4 160.7,466.8 161.8,469.4 162.8,473.3 163.7,478.6 164.7,486.5 165.7,478.6 166.8,481.2 167.7,483.8 168.6,478.6 169.6,482.5 170.7,479.9 171.6,481.2 172.9,478.6 173.9,482.5 174.9,479.9 176.0,483.8 176.9,481.2 178.2,476.0 179.5,473.3 180.2,476.0 181.2,479.9 182.1,482.5 183.4,485.2 184.8,486.5 186.7,489.1 188.0,487.8 189.4,486.5 190.0,494.7 191.0,503.1 191.8,516.4 192.7,517.6 193.4,523.7 194.2,521.3 195.4,512.8 196.3,508.0 197.3,505.5 198.2,507.4 199.4,503.1 200.6,504.9 201.5,501.9 202.1,505.5 203.1,499.5 203.9,497.1 204.7,495.3 205.7,497.1 206.9,499.5 208.1,504.3 209.3,508.0 210.5,511.6 211.5,514.0 212.4,506.8 213.6,506.1 214.4,509.2 215.4,512.8 216.3,511.6 217.6,515.2 218.4,518.8 219.0,524.9 220.2,528.5 221.2,523.7 222.0,518.8 222.9,524.9 223.8,517.6 225.0,530.9 226.0,535.8 226.9,538.2 227.7,545.4 228.4,557.5 228.9,569.6 229.9,574.4 231.1,572.0 232.3,569.6 233.3,564.8 234.1,569.6 235.0,574.4 235.9,573.2 236.9,576.8 237.7,584.1 238.9,590.1 240.2,587.7 241.4,588.9 242.6,586.5 243.8,587.7 245.0,585.3 245.8,576.8 246.8,572.0 247.8,568.4 249.0,572.0 249.8,576.8 251.0,574.4 252.2,578.1 253.4,584.1 254.3,580.5 255.3,578.1 256.5,579.3 257.4,575.6 258.6,574.4 259.5,573.2 260.5,572.6 261.1,581.0 261.6,596.8 262.3,610.5 262.9,614.7 264.0,610.5 265.3,604.2 266.3,602.1 267.4,607.3 268.4,615.7 269.5,625.2 270.5,627.3 271.6,618.9 272.6,610.5 273.5,616.8 274.5,621.0 275.6,623.1 276.6,625.2 277.7,631.5 278.7,635.7 279.8,627.3 280.8,616.8 282.1,604.2 282.9,597.9 284.0,584.2 285.0,583.1 286.1,589.4 287.1,588.4 288.2,594.7 289.2,600.0 290.3,603.1 291.1,604.2 292.1,607.3 293.1,612.6 293.9,619.9 294.9,631.5 295.8,639.9 296.8,635.7 297.6,633.6 298.7,625.2 299.7,616.8 300.8,611.5 301.5,610.5 302.6,613.6 303.6,608.4 304.7,611.5 305.7,608.4 306.8,613.6 307.8,606.3 308.9,615.7 309.6,621.0 310.7,617.8 311.5,608.4 312.6,605.2 313.8,601.0 314.9,603.1 315.7,606.3 316.8,609.4 317.8,613.6 318.9,611.5 319.9,609.4 321.0,612.6 322.0,609.4 323.1,611.5 324.1,610.5 325.0,614.7 326.2,617.8 327.3,611.5 328.3,609.4 329.4,606.3 330.0,606.2 331.7,608.5 332.9,603.9 334.0,608.5 335.8,606.2 336.9,607.3 338.1,605.0 339.0,608.5 340.2,614.3 341.0,616.6 342.1,617.7 343.3,621.2 343.9,616.6 344.8,614.9 346.0,616.6 347.1,614.3 347.9,616.0 349.1,617.7 349.9,618.3 350.8,621.2 352.0,623.5 353.1,627.0 354.0,631.6 354.9,635.1 356.0,638.6 356.8,645.5 357.5,653.0 358.3,645.5 359.1,636.2 360.1,633.9 361.2,639.7 362.4,635.1 363.5,633.9 364.7,635.7 365.8,636.2 367.0,637.4 368.2,640.9 369.3,651.3 370.5,662.8 371.3,690.0 372.1,706.3 373.2,712.8 374.2,742.2 375.3,752.0 376.2,765.0 377.0,787.9 377.8,766.7 378.6,766.7 379.7,773.2 380.2,789.5 381.1,776.5 381.9,766.7 383.0,771.6 384.0,787.9 385.1,791.1 385.9,794.4 387.2,800.9 388.4,807.5 389.2,812.3 390.5,810.7 391.7,807.5 392.8,805.8 393.8,809.1 394.9,805.8 396.1,810.7 397.0,812.3 398.2,814.0 399.3,812.3 400.3,814.0 401.4,811.5 402.6,810.7 403.6,812.3 405.5,815.6 408.0,817.2 409.6,820.5 410.7,823.0 411.7,818.9 412.9,820.5 414.0,818.9 415.3,820.5 416.9,818.9 418.6,819.7 420.2,818.9 421.8,817.2 423.5,818.9 425.1,814.8 426.7,811.5 428.0,817.2 429.2,815.6 430.0,815.8 432.0,814.7 433.9,816.1 436.2,816.4 438.4,820.3 440.1,821.2 441.8,820.3 444.1,820.9 446.3,820.6 448.6,821.7 450.8,822.8 452.5,822.0 454.2,822.0 456.2,825.4 458.1,827.6 460.4,824.8 462.6,820.9 463.7,819.7 464.9,821.2 467.1,822.8 469.4,821.4 471.6,820.9 473.6,824.8 475.6,823.1 477.8,823.4 479.8,823.7 482.0,823.1 484.0,823.4 486.2,824.0 488.5,825.7 490.7,824.8 493.0,821.7 495.2,821.2 496.9,823.4 499.2,822.6 501.4,821.2 503.7,821.4 505.9,820.9 507.6,819.2 509.3,821.7 511.0,817.8 512.7,816.9 514.4,818.1 516.0,818.6 517.7,819.7 519.4,820.2 521.1,820.8 522.7,819.7 524.4,820.8 526.1,821.4 527.8,822.5 529.5,825.3 531.2,827.0 532.9,826.4 534.6,825.9 536.2,825.9 537.9,825.3 539.6,825.9 541.3,827.0 543.0,824.7 544.7,823.1 546.4,822.5 548.1,823.6 549.7,824.2 551.4,825.3 553.1,825.9 554.8,826.4 556.5,827.0 558.2,827.0 559.9,828.1 561.6,827.6 563.2,827.0 564.9,827.0 566.6,827.0 568.3,827.6 569.4,827.0 570.3,818.6 570.8,818.0 571.4,822.5 572.0,824.7 572.5,821.4 573.4,822.5 575.1,821.9 576.7,821.4 578.4,821.4 580.1,821.9 581.8,821.4 583.5,821.9 585.2,822.5 586.9,821.9 588.6,820.8 590.2,819.7 591.9,820.8 593.6,819.7 595.3,820.2 597.0,820.8 598.7,821.4 600.0,820.1 601.7,817.8 603.5,820.7 605.2,822.4 605.8,824.1 606.9,822.4 608.7,821.2 610.4,819.5 612.1,821.8 613.9,822.1 615.6,822.4 617.4,823.3 619.1,823.3 620.8,822.4 622.6,821.2 624.3,821.5 626.0,821.8 627.2,822.4 628.9,820.1 630.1,814.3 630.7,807.4 631.8,806.8 633.0,810.2 634.1,805.0 635.9,806.2 637.6,806.8 639.3,809.7 641.1,813.1 642.2,814.9 643.4,810.2 644.2,807.4 645.1,809.7 646.8,812.6 648.6,814.3 650.3,814.3 652.1,814.3 653.8,816.0 655.2,818.3 656.7,815.4 658.4,811.4 659.6,809.1 660.7,811.4 662.5,813.7 664.2,812.0 665.9,810.8 667.7,810.2 668.8,809.7 670.0,813.7 671.7,814.3 673.5,814.3 675.2,812.6 676.9,813.1 678.7,813.1 680.4,812.6 682.1,812.0 683.3,809.7 684.4,805.0 685.6,802.1 686.1,799.0 686.8,800.4 687.5,802.5 688.2,803.2 688.9,801.8 689.9,799.7 690.9,797.6 692.0,796.2 692.7,795.6 693.4,794.2 694.1,792.8 694.8,791.4 695.5,789.3 696.2,787.9 696.8,785.1 697.2,783.1 697.9,784.4 698.2,786.5 698.6,785.1 699.3,781.7 699.8,778.9 700.3,779.6 700.7,777.5 701.4,772.6 701.7,770.6 702.4,770.6 703.1,771.9 703.4,774.0 704.1,771.2 704.8,772.6 705.5,775.4 706.2,777.5 706.9,779.6 707.5,784.4 708.0,781.7 708.4,780.3 709.0,781.7 709.6,778.9 710.0,773.3 710.4,769.2 710.7,766.4 711.4,765.7 712.1,767.8 713.2,769.2 714.2,769.9 714.9,770.6 715.6,762.9 716.3,758.8 717.0,756.0 717.7,752.5 718.4,749.7 718.7,753.9 719.1,758.8 719.6,765.7 720.0,771.2 720.5,773.3 720.8,767.8 721.5,762.9 722.2,758.1 722.9,754.6 723.6,748.3 724.2,748.6 725.3,743.9 725.9,745.1 727.0,747.4 727.8,749.7 728.8,749.1 729.9,753.2 731.1,750.9 732.2,747.4 733.4,746.2 734.6,743.4 735.7,741.6 736.9,739.3 738.0,735.8 738.6,737.0 739.8,733.5 742.5,713.2 745.1,708.1 745.9,699.7 747.1,693.0 748.1,690.5 749.3,693.0 750.1,701.4 750.9,703.1 751.8,681.2 752.6,674.5 753.5,672.8 754.8,675.3 756.0,676.2 756.8,669.4 757.7,656.0 758.5,654.3 759.4,650.9 760.2,637.4 760.7,624.0 761.5,615.6 762.7,617.2 763.6,622.3 764.4,630.7 765.3,634.1 766.6,615.6 767.8,612.2 768.6,615.6 769.5,624.0 770.3,652.6 770.8,629.0 771.6,624.0 772.3,627.3 773.3,627.3 774.5,610.5 775.4,600.4 776.2,593.7 777.4,581.9 778.4,568.0 779.2,563.0 780.0,554.6 780.9,544.5 781.7,534.4 782.6,531.0 783.4,539.4 784.3,524.3 785.1,514.2 785.9,502.4 786.8,505.8 787.6,500.7 788.5,489.0 789.3,490.6 790.1,480.6 791.0,478.9 791.8,482.2 792.7,480.6 793.8,490.6 794.8,502.4 795.5,494.0 796.5,489.0 797.2,475.5 798.2,468.8 798.9,457.0 799.9,453.6 800.6,460.4 801.6,467.1 802.2,483.9 802.9,467.1 803.9,457.0 804.9,448.6 805.6,441.9 806.5,452.0 807.5,458.7 808.3,463.7 809.5,468.8 810.3,470.5 811.2,463.7 812.0,453.6 812.8,452.0 814.0,458.7 815.0,465.4 815.7,468.8 816.7,477.2 817.9,482.2 818.7,482.2 819.6,475.5 820.4,467.1 821.3,460.4 822.4,453.6 823.4,448.6 824.1,448.4 825.2,440.2 825.7,429.2 826.1,415.6 826.6,395.1 826.8,374.6 827.1,355.5 827.6,350.0 828.2,345.9 828.7,351.4 829.0,363.7 829.3,378.7 829.8,388.3 830.2,395.1 830.7,385.5 831.2,377.4 832.0,378.7 832.6,388.3 833.1,396.5 833.7,404.7 834.2,399.2 834.7,393.7 835.3,392.4 835.8,396.5 836.4,401.9 837.1,407.4 837.8,418.3 838.3,429.2 838.8,432.0 839.4,426.5 839.8,433.3 840.2,423.8 840.5,408.8 841.2,401.9 841.8,395.1 842.5,396.5 843.2,392.4 843.9,391.0 844.6,388.3 845.3,386.9 845.9,389.6 846.6,384.2 847.3,378.7 847.9,374.6 848.4,380.1 848.9,385.5 849.5,393.7 850.0,401.9 850.6,406.0 851.1,401.9 851.7,407.4 852.2,415.6 852.8,423.8 853.5,427.9 854.1,421.1 854.8,410.1 855.5,403.3 856.2,400.6 856.6,396.5 857.1,382.8 857.7,371.9 858.2,362.3 858.8,369.2 859.3,374.6 859.9,377.4 860.4,373.3 861.0,378.7 861.5,381.5 862.1,377.4 862.6,371.9 863.2,374.6 863.7,370.5 864.4,371.9 865.1,377.4 865.7,371.9 866.4,365.1 867.1,358.2 867.8,354.1 868.5,355.5 869.2,351.4 869.8,350.0 870.5,347.3 871.2,344.6 871.9,340.5 872.6,336.4 873.3,339.1 873.9,347.3 874.6,341.8 875.3,339.1 876.0,333.7 876.7,330.9 877.9,312.8 878.8,297.6 879.8,284.4 880.7,271.1 881.7,259.8 882.6,250.3 883.6,240.9 884.0,233.3 884.5,221.9 885.1,212.5 885.5,218.1 886.0,229.5 886.4,221.9 887.0,237.1 887.4,242.8 887.9,231.4 888.5,221.9 888.9,235.2 889.6,242.8 890.2,248.4 890.8,235.2 891.5,221.9 892.3,218.1 893.0,221.9 894.0,220.0 894.6,214.4 894.9,199.2 895.5,193.5 896.1,197.3 896.8,201.1 897.6,187.9 898.3,178.4 898.9,176.5 899.5,187.9 900.0,197.3 900.6,191.6 901.2,189.8 901.7,195.4 902.5,203.0 903.1,206.8 903.6,221.9 904.2,206.8 904.8,195.4 905.3,186.0 905.9,172.7 906.5,165.1 907.0,161.4 907.6,159.5 908.2,165.1 908.7,172.7 909.3,180.3 909.9,187.9 910.5,199.2 911.0,210.6 911.6,214.4 912.0,208.7 912.5,204.9 913.3,199.2 913.9,193.5 914.6,187.9 915.4,184.1 916.1,186.0 916.7,193.5 917.3,201.1 917.8,197.3 918.4,195.4 919.0,199.2 919.5,206.8 920.1,201.1 920.7,197.3 921.2,206.8 921.8,218.1 922.4,229.5 922.9,221.9 923.5,214.4 924.1,210.6 924.6,220.0 925.2,225.7 925.8,220.0 926.4,212.5 927.1,208.7 927.7,218.1 928.2,225.7 928.8,227.6 929.4,221.9 929.9,229.5 930.5,235.2 931.1,229.5 931.7,231.4 932.2,225.7 932.8,221.9 933.4,216.3 933.9,212.5 934.7,210.6 935.5,210.3 936.2,205.9 937.1,203.7 937.7,208.1 938.4,203.7 939.3,210.3 939.9,201.5 940.6,197.1 941.0,210.3 941.5,223.5 942.1,232.4 942.8,228.0 943.7,232.4 944.3,236.8 945.0,241.2 945.9,245.6 946.5,252.2 947.2,243.4 948.1,236.8 948.8,232.4 949.4,241.2 950.1,245.6 950.7,236.8 951.4,232.4 952.1,230.2 952.7,236.8 953.4,232.4 954.0,241.2 954.7,245.6 955.4,247.8 955.6,243.1 956.1,227.9 956.6,217.8 956.9,209.4 957.4,204.4 957.9,199.3 958.6,194.3 959.1,189.2 959.6,187.5 960.3,180.8 961.0,175.8 961.6,172.4 962.3,174.1 963.0,170.7 963.7,167.3 964.3,170.7 965.0,165.7 965.7,160.6 966.2,158.9 966.7,155.6 967.4,150.5 968.0,145.5 968.7,147.1 969.4,145.5 970.1,142.1 970.7,137.0 971.4,135.4 972.1,133.7 972.8,138.7 973.1,132.0 973.4,121.9 973.8,113.5 974.1,110.1 974.4,108.4 974.8,113.5 975.1,121.9 975.5,133.7 975.8,150.5 976.6,196.4 976.6,267.4 977.0,259.2 977.5,245.6 978.2,252.4 978.9,268.8 979.3,281.1 979.9,286.6 980.3,262.0 980.7,241.5 981.0,240.1 981.4,251.0 981.8,262.0 982.3,275.6 982.9,286.6 983.4,293.4 984.0,297.5 984.5,286.6 985.1,268.8 985.7,253.8 986.4,248.3 986.8,245.6 987.2,249.7 987.8,262.0 988.3,275.6 988.9,289.3 989.4,294.8 990.0,293.4 990.5,283.8 991.1,272.9 991.6,267.4 992.2,262.0 992.7,260.6 993.3,264.7 993.8,268.8 994.3,256.5 994.9,248.3 995.4,241.5 996.0,236.0 996.5,231.9 997.1,229.2 997.6,231.9 998.0,236.0 998.4,238.7 999.0,242.8 999.5,251.0 1000.0,258.0 1000.6,254.0 1001.2,250.0 1001.6,262.0 1002.0,270.0 1002.4,254.0 1003.0,248.0 1003.6,244.0 1004.0,254.0 1004.4,270.0 1005.0,286.0 1005.6,294.0 1006.0,280.0 1006.6,270.0 1007.2,262.0 1007.6,266.0 1008.0,274.0 1008.6,270.0 1009.2,278.0 1009.6,274.0 1010.0,266.0 1010.6,260.0 1011.2,254.0 1011.6,246.0 1012.0,236.0 1012.6,230.0 1013.2,226.0 1013.6,222.0 1014.0,218.0 1014.6,216.0 1015.2,212.0 1015.6,204.0 1016.0,196.0 1016.6,190.0 1017.2,182.0 1017.8,178.0 1018.4,176.0 1019.0,182.0 1019.6,190.0 1020.2,200.0 1020.8,212.0 1021.4,204.0 1022.0,194.0 1022.6,190.0 1023.2,192.0 1023.8,196.0 1024.4,188.0 1025.0,184.0 1025.6,178.0 1026.2,174.0 1026.8,170.0 1027.4,168.0 1028.0,166.0 1028.6,162.0 1029.2,160.0 1029.8,164.0 1030.4,158.0 1031.0,156.0 1031.6,154.0 1032.2,152.0 1032.8,150.0 1033.4,156.0 1034.0,154.0 1034.6,156.0 1035.2,154.0 1035.8,158.0 1036.4,150.0 1037.0,138.0 1037.6,132.0 1038.2,130.0 1038.8,128.0 1039.4,126.0 1040.0,122.0 1040.5,124.1 1041.1,130.4 1041.6,136.7 1042.1,138.8 1042.6,142.0 1043.2,147.2 1043.7,153.5 1044.0,164.0 1044.2,170.3 1044.5,161.9 1044.8,155.6 1045.3,153.5 1045.8,153.5 1046.3,155.6 1046.8,151.4 1047.4,145.1 1047.9,138.8 1048.4,136.7 1048.9,134.6 1049.2,132.5 1049.7,130.4 1050.1,134.6 1050.5,136.7 1051.0,134.6 1051.6,132.5 1052.1,135.7 1052.6,133.6 1053.1,132.5 1053.7,134.6 1054.2,135.7 1054.7,134.6 1055.2,136.7 1055.8,138.8 1056.3,145.1 1056.8,151.4 1057.3,153.5 1057.9,154.6 1058.4,152.5 1058.9,145.1 1059.4,138.8 1060.0,132.5 1060.5,129.4 1061.0,127.3 1061.5,125.2 1062.1,124.1 1062.6,126.2 1063.1,128.3 1063.6,125.2 1064.2,119.9 1064.7,116.8 1065.2,113.6 1065.7,114.7 1066.3,118.9 1066.8,113.6 1067.3,110.5 1067.8,108.4 1068.4,110.5 1068.9,115.7 1069.4,122.0 1069.9,129.4 1070.5,135.7 1071.0,138.8 1071.5,137.8 1072.0,132.5 1072.6,124.1 1073.1,119.9 1073.6,117.8 1074.1,122.0 1074.7,123.1 1075.2,119.9 1075.7,117.8 1076.2,118.9 1076.8,121.0 1077.3,119.9 1077.8,115.7 1078.3,113.6 1078.9,111.5 1079.4,107.3 1079.9,97.9 1080.4,94.7 1081.0,93.7 1081.5,95.8 1082.0,98.9 1082.5,101.0 1083.1,103.1 1083.6,98.9 1084.1,101.0 1084.6,102.1 1085.2,100.0 1085.7,107.3 1086.2,111.5 1086.7,109.4 1087.3,103.1 1087.8,97.9 1088.4,108.6 1088.9,106.8 1089.5,110.4 1090.0,115.7 1090.5,126.4 1091.1,128.2 1091.6,122.9 1092.1,115.7 1092.7,110.4 1093.2,108.6 1093.8,106.8 1094.3,105.0 1094.8,99.6 1095.4,94.3 1095.9,88.9 1096.4,87.1 1097.0,90.7 1097.5,97.9 1098.0,105.0 1098.6,108.6 1099.1,103.2 1099.6,105.0 1100.2,110.4 1100.7,113.9 1101.2,115.7 1101.8,108.6 1102.3,106.8 1102.9,110.4 1103.4,115.7 1103.9,121.1 1104.5,124.6 1105.0,128.2 1105.5,131.8 1105.9,140.7 1106.2,133.6 1106.6,128.2 1107.1,130.0 1107.7,124.6 1108.2,113.9 1108.8,110.4 1109.3,112.1 1109.8,115.7 1110.4,121.1 1110.9,133.6 1111.4,142.5 1112.0,138.9 1112.5,135.4 1113.0,133.6 1113.6,137.1 1114.1,138.9 1114.6,135.4 1115.2,133.6 1115.7,131.8 1116.2,128.2 1116.8,126.4 1117.3,130.0 1117.9,133.6 1118.4,142.5 1118.9,155.0 1119.5,167.5 1120.0,171.1 1120.5,176.4 1121.1,180.0 1121.6,185.4 1122.1,181.8 1122.7,180.0 1123.2,174.6 1123.8,176.4 1124.3,172.9 1124.8,162.1 1125.4,160.4 1125.9,160.4 1126.4,158.6 1126.8,162.1 1127.1,183.6 1127.7,201.4 1128.2,206.8 1128.8,208.6 1129.3,203.2 1129.8,197.9 1130.4,201.4 1130.9,208.6 1131.4,212.1 1132.3,216.3 1132.9,218.6 1133.5,223.2 1134.0,226.7 1134.6,229.0 1135.2,224.4 1135.8,218.6 1136.4,214.0 1136.9,211.7 1137.5,209.4 1138.1,208.2 1138.7,209.4 1139.2,210.5 1139.8,209.4 1140.4,211.7 1141.0,215.1 1141.6,223.2 1142.1,231.3 1142.7,237.1 1143.3,241.7 1143.6,238.3 1143.9,227.9 1144.2,218.6 1144.6,211.7 1145.0,209.4 1145.6,208.2 1146.2,207.1 1146.8,208.2 1147.3,209.4 1147.9,211.7 1148.5,216.3 1149.1,214.0 1149.7,215.1 1150.2,218.6 1150.8,220.9 1151.4,227.9 1152.0,232.5 1152.5,233.6 1153.1,227.9 1153.5,216.3 1153.8,208.2 1154.3,203.6 1154.7,200.1 1155.2,197.8 1155.7,200.1 1156.1,197.8 1156.6,196.6 1157.2,195.5 1157.7,193.2 1158.1,186.2 1158.4,177.0 1158.8,170.1 1159.1,168.9 1159.5,174.7 1159.8,179.3 1160.2,175.8 1160.5,173.5 1160.9,171.2 1161.2,174.7 1161.6,173.5 1161.9,168.9 1162.4,165.4 1162.9,163.1 1163.5,162.0 1164.1,160.8 1164.7,159.7 1165.3,160.8 1165.8,163.1 1166.4,166.6 1167.0,171.2 1167.6,177.0 1168.2,181.6 1168.7,185.1 1169.3,186.2 1169.9,183.9 1170.5,186.2 1171.0,190.9 1171.6,194.3 1172.1,188.6 1172.5,183.9 1173.0,178.2 1173.5,172.4 1173.9,167.7 1174.5,163.1 1175.1,160.8 1175.7,159.7 1176.2,158.5 1176.8,159.7 1177.4,165.4 1178.0,171.2 1178.6,174.7 1179.1,175.8 1179.7,177.0 1180.3,178.2 1180.9,179.3 1181.4,178.2 1182.0,173.5 1182.6,168.9 1183.2,165.4 1183.8,163.1 1184.3,165.4 1184.9,167.7 1185.5,170.1 1186.1,167.7 1186.6,163.1 1187.2,157.3 1187.8,151.6 1188.4,126.6 1188.7,123.0 1189.2,125.4 1189.8,131.4 1190.4,133.8 1191.0,127.8 1191.6,124.2 1192.2,121.7 1192.9,123.0 1193.5,121.7 1194.1,124.2 1194.7,126.6 1195.3,124.2 1195.9,126.6 1196.5,129.0 1197.1,124.2 1197.7,120.5 1198.3,123.0 1198.9,120.5 1199.5,115.7 1200.1,114.5 1200.5,121.7 1200.8,130.2 1201.2,136.2 1201.6,142.3 1201.9,145.9 1202.5,144.7 1203.1,143.5 1203.7,144.7 1204.3,141.1 1204.9,139.9 1205.5,138.7 1206.1,141.1 1206.7,148.3 1207.4,158.0 1207.7,154.4 1208.1,148.3 1208.6,145.9 1209.2,144.7 1209.8,143.5 1210.4,142.3 1211.0,141.1 1211.6,136.2 1212.2,130.2 1212.8,125.4 1213.4,123.0 1214.0,122.4 1214.6,123.0 1215.2,126.6 1215.8,132.6 1216.4,138.7 1217.0,144.7 1217.6,150.7 1218.2,156.8 1218.8,159.2 1219.4,150.7 1220.0,141.1 1220.6,136.2 1221.0,141.1 1221.5,148.3 1222.0,155.6 1222.5,152.0 1222.9,154.4 1223.4,161.6 1223.9,158.0 1224.4,155.6 1224.9,158.0 1225.5,156.8 1226.1,159.2 1226.7,156.8 1227.3,158.0 1227.9,159.2 1228.5,156.8 1229.1,155.6 1229.7,158.0 1230.3,160.4 1230.9,156.8 1231.5,154.4 1232.1,155.6 1232.7,156.8 1233.3,159.2 1233.9,164.0 1234.3,172.5 1234.7,176.1 1235.1,173.7 1235.7,172.5 1236.3,174.9 1237.0,177.3 1237.3,184.6 1237.7,191.8 1238.2,196.7 1238.8,199.1 1239.4,202.7 1240.0,199.1 1240.6,191.8 1241.2,189.4 1241.8,188.2 1242.4,189.4 1243.0,191.8 1243.6,195.4 1244.2,199.1 1244.8,202.7 1245.4,206.3 1246.1,207.7 1246.6,212.6 1247.1,220.7 1247.6,228.9 1248.1,237.0 1248.6,245.2 1249.1,256.6 1249.4,268.0 1249.7,277.8 1250.1,281.1 1250.4,272.9 1250.7,268.0 1251.0,269.6 1251.5,266.4 1252.0,259.9 1252.5,256.6 1253.0,258.2 1253.5,256.6 1254.0,268.0 1254.3,272.9 1254.6,271.3 1255.0,264.8 1255.4,256.6 1255.9,253.3 1256.4,251.7 1256.9,253.3 1257.4,256.6 1257.9,263.1 1258.4,266.4 1258.9,269.6 1259.4,272.9 1259.8,272.9 1260.3,274.5 1260.8,274.5 1261.3,276.2 1261.8,277.8 1262.3,279.4 1262.8,281.1 1263.3,279.4 1263.8,277.8 1264.2,276.2 1264.7,277.8 1265.2,281.1 1265.7,287.6 1266.2,294.1 1266.7,300.6 1267.2,307.1 1267.7,312.0 1268.2,315.3 1268.6,313.7 1269.1,316.9 1269.6,320.2 1270.1,318.5 1270.6,320.2 1271.1,321.8 1271.6,323.4 1272.1,325.1 1272.6,328.3 1273.0,325.1 1273.5,321.8 1274.0,323.4 1274.5,325.1 1275.0,323.4 1275.5,321.8 1276.0,326.7 1276.5,330.0 1277.0,328.3 1277.4,326.7 1277.9,325.1 1278.4,321.8 1278.9,320.2 1279.4,321.8 1279.9,318.5 1280.4,315.3 1280.9,312.0 1281.4,307.1 1281.8,297.4 1282.3,285.9 1282.8,274.5 1283.3,264.8 1283.8,266.4 1284.3,269.6 1284.8,264.8 1285.3,261.5 1285.8,263.1 1286.2,269.6 1286.7,271.3 1287.2,272.9 1287.7,271.3 1288.3,269.1 1288.7,270.8 1289.2,268.2 1289.6,266.5 1290.0,269.1 1290.4,270.8 1290.8,268.2 1291.3,259.0 1291.7,255.6 1292.1,253.9 1292.5,252.2 1292.9,250.6 1293.4,248.9 1293.8,247.2 1294.2,245.5 1294.6,243.8 1295.0,244.7 1295.5,247.2 1295.9,248.0 1296.3,243.8 1296.7,240.5 1297.2,238.8 1297.6,237.9 1298.0,236.2 1298.4,235.4 1298.8,234.6 1299.3,237.1 1299.7,234.6 1300.1,230.4 1300.5,228.7 1300.9,227.0 1301.2,230.4 1301.5,226.1 1301.8,221.1 1302.0,216.0 1302.4,214.4 1302.7,220.3 1303.0,216.9 1303.5,215.2 1303.9,214.4 1304.3,218.6 1304.7,221.9 1305.1,220.3 1305.6,217.7 1306.0,220.3 1306.4,223.6 1306.8,220.3 1307.3,216.0 1307.7,211.8 1308.1,210.2 1308.5,209.3 1308.9,210.2 1309.4,214.4 1309.8,218.6 1310.2,224.5 1310.6,228.7 1311.0,232.0 1311.5,235.4 1311.9,238.8 1312.3,240.5 1312.7,242.1 1313.1,243.8 1313.6,245.5 1314.0,246.3 1314.4,247.2 1314.8,248.0 1315.2,249.7 1315.7,250.6 1316.1,248.9 1316.5,246.3 1316.9,244.7 1317.4,242.1 1317.8,239.6 1318.2,237.1 1318.6,234.6 1319.0,232.0 1319.5,229.5 1319.9,227.8 1320.3,226.1 1320.7,224.5 1321.1,221.9 1321.6,218.6 1322.0,215.2 1322.2,213.5 1322.6,214.4 1323.1,216.0 1323.7,215.2 1324.1,216.0 1324.5,216.0 1324.9,215.2 1325.4,216.5 1325.8,216.9 1326.2,220.3 1326.6,224.5 1327.0,227.8 1327.5,229.5 1327.9,228.7 1328.3,226.1 1328.7,224.5 1329.1,223.6 1329.6,224.5 1330.0,223.6 1330.4,224.5 1330.8,225.3 1331.2,225.3 1331.7,225.7 1332.1,226.1 1332.5,226.0" fill="none" stroke="#e8e8ea" stroke-width="1.6" stroke-linejoin="round"/>
<circle cx="1331" cy="225.5" r="2.5" fill="#e8e8ea"/>
<circle cx="1332.4" cy="868.3" r="10.4" fill="#131621" stroke="#ab47bc" stroke-width="2"/>
<path d="M1335.37 862.24 L1336.20 862.83 L1333.46 867.31 L1336.99 867.49 L1337.14 868.19 L1329.63 874.02 L1328.90 873.49 L1331.40 869.46 L1327.86 869.16 L1327.42 868.49 L1334.93 862.30 Z" fill="#b04cc4" stroke="#b04cc4" stroke-width="0.3" stroke-linejoin="round"/>
<path d="M11 925.7 H19.6 V936 H14.8 V930.4 H11 Z" fill="#d1d4dc"/>
<circle cx="22.9" cy="927.9" r="2.35" fill="#d1d4dc"/>
<path d="M26.7 925.7 H32.1 L27.1 936.1 H21.8 Z" fill="#d1d4dc"/>
<text x="1524.6" y="53" font-size="13.5" font-weight="bold" fill="#d1d4dc">%</text>
<text x="10.40" y="22.00" font-size="14.9" fill="#d1d4dc" font-weight="normal" textLength="396.69" lengthAdjust="spacingAndGlyphs" stroke="#d1d4dc" stroke-width="0.25">fejau published on TradingView.com, Jan 09, 2025 09:35 UTC-8</text>
<text x="19.12" y="51.50" font-size="14.4" fill="#c8cbd3" font-weight="normal" textLength="263.65" lengthAdjust="spacingAndGlyphs" stroke="#c8cbd3" stroke-width="0.2">US Government Bonds 2 YR Yield, 1D, TVC</text>
<text x="289.42" y="51.50" font-size="14.4" fill="#eef0f5" font-weight="normal" textLength="47.15" lengthAdjust="spacingAndGlyphs" stroke="#eef0f5" stroke-width="0.3">4.270%</text>
<text x="343.82" y="51.50" font-size="14.4" fill="#eef0f5" font-weight="normal" textLength="102.75" lengthAdjust="spacingAndGlyphs" stroke="#eef0f5" stroke-width="0.3">&#8722;0.017 (&#8722;0.40%)</text>
<text x="19.12" y="70.10" font-size="14.4" fill="#c8cbd3" font-weight="normal" textLength="254.85" lengthAdjust="spacingAndGlyphs" stroke="#c8cbd3" stroke-width="0.2">EFFR &#183; Federal Reserve Bank of New York</text>
<text x="280.67" y="70.10" font-size="14.4" fill="#cc1f66" font-weight="normal" textLength="27.70" lengthAdjust="spacingAndGlyphs" stroke="#cc1f66" stroke-width="0.2">4.33</text>
<text x="316.02" y="70.10" font-size="14.4" fill="#cc1f66" font-weight="normal" textLength="61.15" lengthAdjust="spacingAndGlyphs" stroke="#cc1f66" stroke-width="0.2">0 (0.00%)</text>
<text x="1520.45" y="124.00" font-size="13.8" fill="#b2b5be" font-weight="normal" textLength="49.10" lengthAdjust="spacingAndGlyphs" stroke="#b2b5be" stroke-width="0.25">5.000%</text>
<text x="1520.45" y="197.00" font-size="13.8" fill="#b2b5be" font-weight="normal" textLength="49.10" lengthAdjust="spacingAndGlyphs" stroke="#b2b5be" stroke-width="0.25">4.500%</text>
<text x="1520.45" y="270.00" font-size="13.8" fill="#b2b5be" font-weight="normal" textLength="49.10" lengthAdjust="spacingAndGlyphs" stroke="#b2b5be" stroke-width="0.25">4.000%</text>
<text x="1520.45" y="342.00" font-size="13.8" fill="#b2b5be" font-weight="normal" textLength="49.10" lengthAdjust="spacingAndGlyphs" stroke="#b2b5be" stroke-width="0.25">3.500%</text>
<text x="1520.45" y="414.00" font-size="13.8" fill="#b2b5be" font-weight="normal" textLength="49.10" lengthAdjust="spacingAndGlyphs" stroke="#b2b5be" stroke-width="0.25">3.000%</text>
<text x="1520.45" y="487.00" font-size="13.8" fill="#b2b5be" font-weight="normal" textLength="49.10" lengthAdjust="spacingAndGlyphs" stroke="#b2b5be" stroke-width="0.25">2.500%</text>
<text x="1520.45" y="559.00" font-size="13.8" fill="#b2b5be" font-weight="normal" textLength="49.10" lengthAdjust="spacingAndGlyphs" stroke="#b2b5be" stroke-width="0.25">2.000%</text>
<text x="1520.45" y="631.00" font-size="13.8" fill="#b2b5be" font-weight="normal" textLength="49.10" lengthAdjust="spacingAndGlyphs" stroke="#b2b5be" stroke-width="0.25">1.500%</text>
<text x="1520.45" y="704.00" font-size="13.8" fill="#b2b5be" font-weight="normal" textLength="49.10" lengthAdjust="spacingAndGlyphs" stroke="#b2b5be" stroke-width="0.25">1.000%</text>
<text x="1520.45" y="776.00" font-size="13.8" fill="#b2b5be" font-weight="normal" textLength="49.10" lengthAdjust="spacingAndGlyphs" stroke="#b2b5be" stroke-width="0.25">0.500%</text>
<text x="1520.45" y="849.00" font-size="13.8" fill="#b2b5be" font-weight="normal" textLength="49.10" lengthAdjust="spacingAndGlyphs" stroke="#b2b5be" stroke-width="0.25">0.000%</text>
<text x="42.45" y="902.90" font-size="13.8" fill="#b2b5be" font-weight="normal" textLength="19.10" lengthAdjust="spacingAndGlyphs" stroke="#b2b5be" stroke-width="0.25">Jul</text>
<text x="131.45" y="902.90" font-size="13.8" fill="#c0c3cb" font-weight="bold" textLength="35.10" lengthAdjust="spacingAndGlyphs" >2019</text>
<text x="234.45" y="902.90" font-size="13.8" fill="#b2b5be" font-weight="normal" textLength="19.10" lengthAdjust="spacingAndGlyphs" stroke="#b2b5be" stroke-width="0.25">Jul</text>
<text x="324.45" y="902.90" font-size="13.8" fill="#c0c3cb" font-weight="bold" textLength="35.10" lengthAdjust="spacingAndGlyphs" >2020</text>
<text x="430.45" y="902.90" font-size="13.8" fill="#b2b5be" font-weight="normal" textLength="19.10" lengthAdjust="spacingAndGlyphs" stroke="#b2b5be" stroke-width="0.25">Jul</text>
<text x="523.45" y="902.90" font-size="13.8" fill="#c0c3cb" font-weight="bold" textLength="35.10" lengthAdjust="spacingAndGlyphs" >2021</text>
<text x="627.45" y="902.90" font-size="13.8" fill="#b2b5be" font-weight="normal" textLength="19.10" lengthAdjust="spacingAndGlyphs" stroke="#b2b5be" stroke-width="0.25">Jul</text>
<text x="721.45" y="902.90" font-size="13.8" fill="#c0c3cb" font-weight="bold" textLength="35.10" lengthAdjust="spacingAndGlyphs" >2022</text>
<text x="828.45" y="902.90" font-size="13.8" fill="#b2b5be" font-weight="normal" textLength="19.10" lengthAdjust="spacingAndGlyphs" stroke="#b2b5be" stroke-width="0.25">Jul</text>
<text x="920.45" y="902.90" font-size="13.8" fill="#c0c3cb" font-weight="bold" textLength="35.10" lengthAdjust="spacingAndGlyphs" >2023</text>
<text x="1028.45" y="902.90" font-size="13.8" fill="#b2b5be" font-weight="normal" textLength="19.10" lengthAdjust="spacingAndGlyphs" stroke="#b2b5be" stroke-width="0.25">Jul</text>
<text x="1118.45" y="902.90" font-size="13.8" fill="#c0c3cb" font-weight="bold" textLength="35.10" lengthAdjust="spacingAndGlyphs" >2024</text>
<text x="1222.45" y="902.90" font-size="13.8" fill="#b2b5be" font-weight="normal" textLength="19.10" lengthAdjust="spacingAndGlyphs" stroke="#b2b5be" stroke-width="0.25">Jul</text>
<text x="1311.45" y="902.90" font-size="13.8" fill="#c0c3cb" font-weight="bold" textLength="35.10" lengthAdjust="spacingAndGlyphs" >2025</text>
<text x="1413.45" y="902.90" font-size="13.8" fill="#b2b5be" font-weight="normal" textLength="19.10" lengthAdjust="spacingAndGlyphs" stroke="#b2b5be" stroke-width="0.25">Jul</text>
<text x="36.33" y="936.90" font-size="14.3" fill="#d1d4dc" font-weight="normal" textLength="81.44" lengthAdjust="spacingAndGlyphs" stroke="#d1d4dc" stroke-width="0.45">TradingView</text>
<rect x="1470" y="197.5" width="105" height="18.3" rx="2" fill="#c91466"/>
<path d="M1458 218 a2 2 0 0 1 2 -2 H1582 a2 2 0 0 1 2 2 V248 a2 2 0 0 1 -2 2 H1513 a2 2 0 0 1 -2 -2 V235 H1460 a2 2 0 0 1 -2 -2 Z" fill="#ffffff"/>
<line x1="1511.5" y1="198" x2="1511.5" y2="250" stroke="#7a7d86" stroke-width="1" opacity="0.8"/>
<text x="1474.80" y="211.20" font-size="12.6" fill="#ffffff" font-weight="normal" textLength="31.01" lengthAdjust="spacingAndGlyphs" >EFFR</text>
<text x="1520.37" y="211.20" font-size="13.2" fill="#ffffff" font-weight="normal" textLength="49.16" lengthAdjust="spacingAndGlyphs" >4.330%</text>
<text x="1463.00" y="229.80" font-size="12.6" fill="#131722" font-weight="normal" textLength="42.81" lengthAdjust="spacingAndGlyphs" >US02Y</text>
<text x="1520.47" y="229.80" font-size="13.2" fill="#131722" font-weight="normal" textLength="48.56" lengthAdjust="spacingAndGlyphs" >4.270%</text>
<text x="1520.47" y="245.30" font-size="13.2" fill="#464952" font-weight="normal" textLength="56.66" lengthAdjust="spacingAndGlyphs" >04:54:41</text>
</svg>
</body></html>
